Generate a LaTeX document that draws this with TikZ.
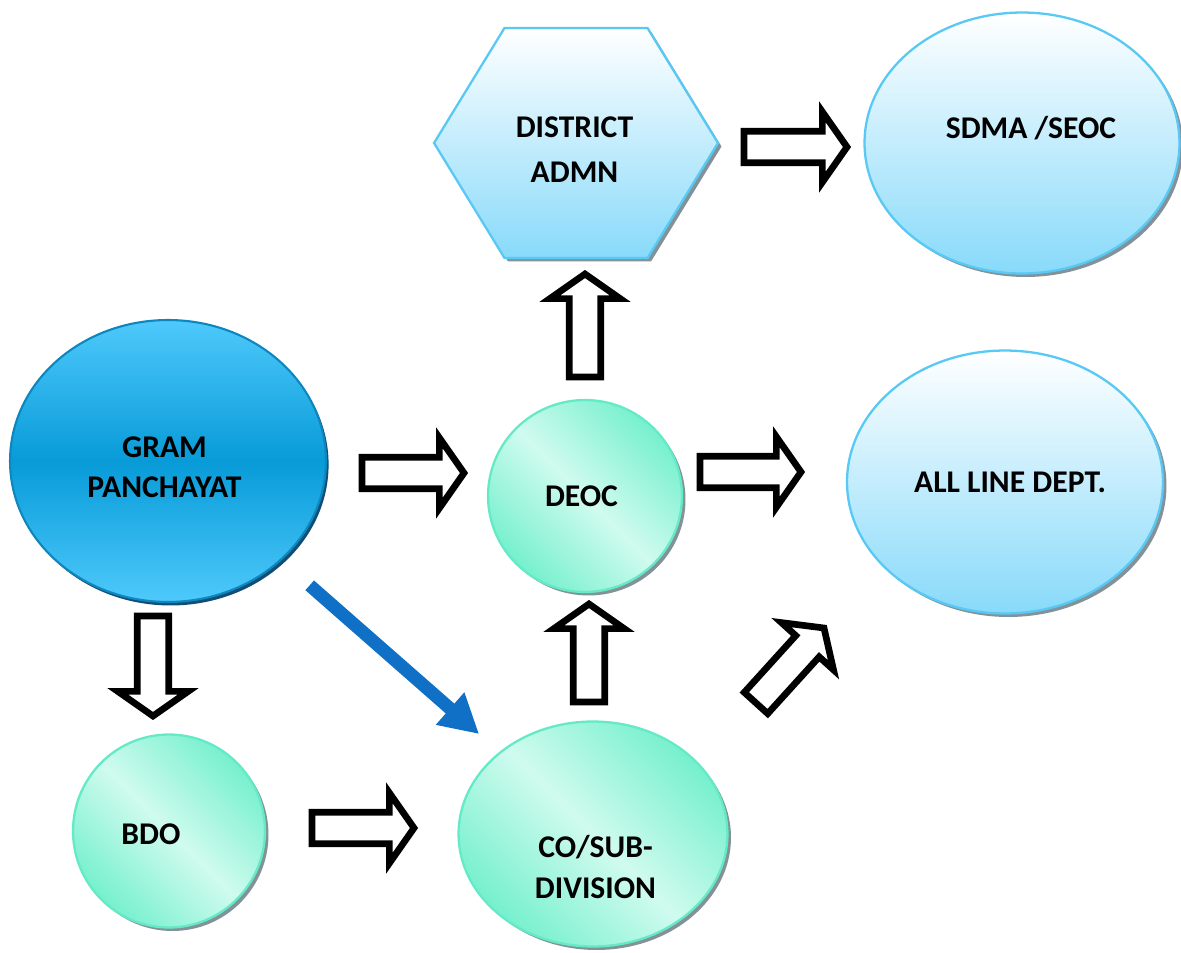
\documentclass[tikz,border=0pt]{standalone}
\usepackage{fontspec}
\setmainfont{Carlito}
\usetikzlibrary{shapes.geometric,shapes.symbols,shadows,calc,arrows.meta}

\definecolor{gptop}{RGB}{78,201,251}
\definecolor{gpmid}{RGB}{8,155,216}
\definecolor{gpline}{RGB}{14,134,190}
\definecolor{gpshadow}{RGB}{16,78,118}
\definecolor{skyline}{RGB}{88,200,244}
\definecolor{skybot}{RGB}{136,218,250}
\definecolor{mint}{RGB}{118,240,206}
\definecolor{mintlight}{RGB}{208,251,238}
\definecolor{mintline}{RGB}{100,234,198}
\definecolor{shadowgray}{RGB}{130,146,152}
\definecolor{arrowblue}{RGB}{16,112,198}

\begin{document}
\begin{tikzpicture}[x=0.02cm, y=-0.02cm,
  every label/.style={font=\fontsize{18}{23}\selectfont\bfseries, align=center},
  gram/.style={ellipse, draw=gpline, line width=1.2pt, top color=gptop, bottom color=gptop,
    middle color=gpmid, outer sep=0pt,
    drop shadow={shadow xshift=1.5pt, shadow yshift=-2pt, fill=gpshadow, opacity=1}},
  sky/.style={draw=skyline, line width=1.3pt, top color=white, bottom color=skybot, outer sep=0pt,
    drop shadow={shadow xshift=2pt, shadow yshift=-2pt, fill=shadowgray, opacity=1}},
  mintc/.style={ellipse, draw=mintline, line width=1.3pt, left color=mint, right color=mint,
    middle color=mintlight, shading angle=135, outer sep=0pt,
    drop shadow={shadow xshift=2pt, shadow yshift=-2pt, fill=shadowgray, opacity=1}},
  blockarrow/.style={draw=black, fill=white, line width=3.8pt, line join=miter,
    to path={let \p1=(\tikztostart), \p2=(\tikztotarget), \p3=($(\p2)!14pt!(\p1)$) in
      ($(\p1)!9pt!90:(\p2)$) -- ($(\p3)!9pt!90:(\p2)$) -- ($(\p3)!20pt!90:(\p2)$) -- (\p2)
      -- ($(\p3)!20pt!-90:(\p2)$) -- ($(\p3)!9pt!-90:(\p2)$) -- ($(\p1)!9pt!-90:(\p2)$) -- cycle}},
  bluearrow/.style={draw=arrowblue, line width=7.4pt, -{Triangle[length=22pt,width=23pt]}}
]
  \useasboundingbox (0,0) rectangle (1181,953);

  % Nodi
  \node[gram, minimum width=6.32cm, minimum height=5.64cm,
    label={[xshift=-0.07cm, yshift=-0.12cm]center:GRAM\\PANCHAYAT}] (gp) at (168,461) {};
  \node[sky, signal, signal to=east and west, signal from=nowhere, signal pointer angle=117,
    minimum width=5.68cm, minimum height=4.6cm, inner sep=0pt,
    label={[xshift=-0.03cm, yshift=-0.13cm]center:DISTRICT\\[3pt]ADMN}] (da) at (576,143) {};
  \node[sky, ellipse, minimum width=6.3cm, minimum height=5.22cm,
    label={[xshift=0.18cm, yshift=0.3cm]center:SDMA /SEOC}] (sdma) at (1022,143) {};
  \node[sky, ellipse, minimum width=6.32cm, minimum height=5.26cm,
    label={[xshift=0.1cm]center:ALL LINE DEPT.}] (all) at (1005,482) {};
  \node[mintc, minimum width=3.88cm, minimum height=3.84cm,
    label={[xshift=-0.07cm]center:DEOC}] (deoc) at (585,496) {};
  \node[mintc, minimum width=5.38cm, minimum height=4.5cm,
    label={[xshift=0.05cm, yshift=-0.66cm]center:CO/SUB-\\DIVISION}] (co) at (593,834) {};
  \node[mintc, minimum width=3.84cm, minimum height=3.86cm,
    label={[xshift=-0.36cm, yshift=-0.06cm]center:BDO}] (bdo) at (169,831) {};

  % Estremi delle frecce a blocco
  \coordinate (gpdeocA) at (362,473);  \coordinate (gpdeocB) at (464,473);
  \coordinate (deocallA) at (700,472); \coordinate (deocallB) at (801,472);
  \coordinate (dasdmaA) at (744,147);  \coordinate (dasdmaB) at (847,147);
  \coordinate (bdocoA) at (312,828);   \coordinate (bdocoB) at (414,828);
  \coordinate (deocdaA) at (585,377);  \coordinate (deocdaB) at (585,274);
  \coordinate (codeocA) at (589,702);  \coordinate (codeocB) at (589,604);
  \coordinate (gpbdoA) at (153,616);   \coordinate (gpbdoB) at (153,716);
  \coordinate (coallA) at (756,703);   \coordinate (coallB) at (824,628);

  \draw[blockarrow] (gpdeocA) to (gpdeocB);
  \draw[blockarrow] (deocallA) to (deocallB);
  \draw[blockarrow] (dasdmaA) to (dasdmaB);
  \draw[blockarrow] (bdocoA) to (bdocoB);
  \draw[blockarrow] (deocdaA) to (deocdaB);
  \draw[blockarrow] (codeocA) to (codeocB);
  \draw[blockarrow] (gpbdoA) to (gpbdoB);
  \draw[blockarrow] (coallA) to (coallB);

  \draw[bluearrow, shorten <=22pt, shorten >=16pt] (gp) -- (co);
\end{tikzpicture}
\end{document}
